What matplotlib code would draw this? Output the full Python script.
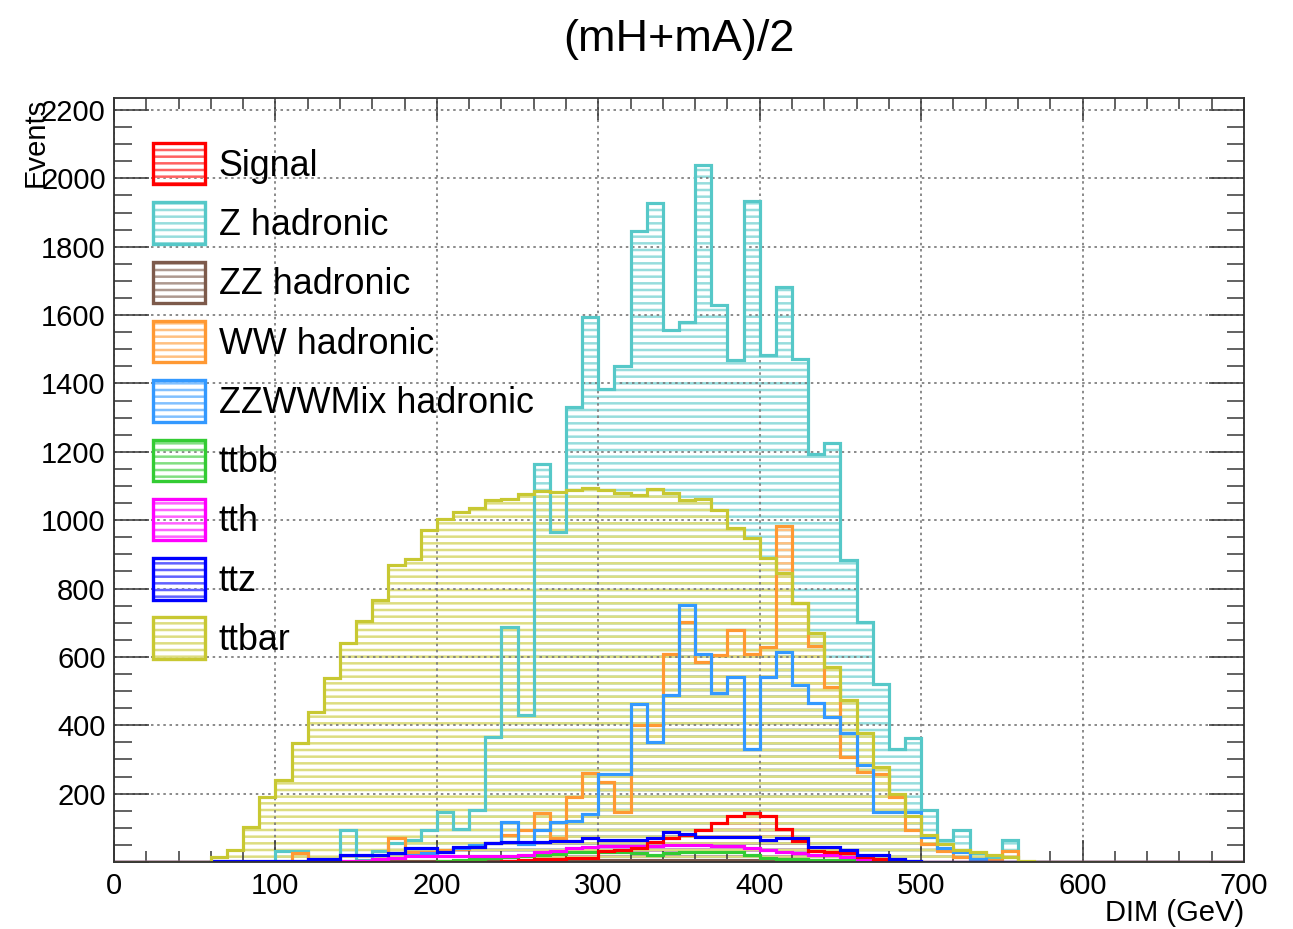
import numpy as np
import matplotlib
matplotlib.use("Agg")
import matplotlib.pyplot as plt
from matplotlib.patches import Patch
from matplotlib.legend_handler import HandlerTuple
from matplotlib.colors import to_rgb
from matplotlib.ticker import MultipleLocator, FixedLocator, FixedFormatter


# 10 GeV bins from 0 to 700; each series is stored from its first non-empty bin
bin_edges = list(range(0, 710, 10))

z_had_first = 10
z_had = [33, 33, 0, 0, 93, 5, 33, 55, 64, 95,
         147, 97, 152, 367, 688, 430, 1165, 965, 1330, 1595,
         1385, 1450, 1845, 1928, 1555, 1580, 2040, 1630, 1470, 1935,
         1482, 1683, 1472, 1193, 1225, 884, 703, 522, 332, 362,
         151, 64, 93, 25, 15, 64]

ttbar_first = 6
ttbar = [15, 35, 103, 190, 240, 347, 440, 537, 640, 704,
         766, 868, 885, 970, 1002, 1025, 1037, 1059, 1063, 1078,
         1085, 1082, 1089, 1095, 1089, 1080, 1073, 1092, 1080, 1059,
         1063, 1029, 976, 947, 888, 844, 757, 670, 571, 473,
         377, 278, 198, 135, 78, 54, 35, 30, 20, 15, 3]

ww_had_first = 11
ww_had = [27, 0, 0, 0, 0, 0, 69, 30, 30, 35,
          38, 45, 55, 80, 93, 142, 69, 191, 259, 235,
          147, 401, 401, 608, 703, 586, 605, 678, 608, 629,
          983, 757, 631, 513, 307, 263, 258, 189, 93, 54,
          33, 15, 8, 5, 33]

zzww_first = 18
zzww = [20, 25, 30, 40, 50, 57, 117, 54, 93, 117,
        120, 141, 258, 258, 463, 352, 489, 752, 608, 494,
        542, 332, 542, 615, 518, 466, 425, 377, 283, 147,
        147, 147, 74, 40, 30, 10]

zz_had_first = 15
zz_had = [2, 2, 2, 2, 2, 4, 4, 4, 4, 4,
          4, 4, 4, 4, 4, 6, 6, 6, 6, 6,
          6, 6, 6, 6, 6, 6, 6, 6, 6, 6,
          3, 3, 3, 3]

ttbb_first = 20
ttbb = [3, 5, 8, 12, 15, 18, 20, 22, 28, 28,
        30, 30, 25, 20, 25, 28, 28, 30, 30, 20,
        12, 10, 8, 7, 6, 5, 4, 3, 2, 3]

tth_first = 12
tth = [3, 3, 3, 3, 8, 12, 17, 17, 17, 17,
       17, 17, 17, 20, 28, 32, 40, 45, 47, 47,
       47, 47, 50, 50, 50, 48, 48, 42, 35, 30,
       25, 20, 20, 15, 10, 6, 3]

signal_first = 24
signal = [3, 5, 10, 10, 12, 13, 33, 35, 40, 59,
          69, 79, 94, 114, 134, 144, 136, 96, 60, 33,
          30, 25, 15, 8, 3]

ttz_first = 6
ttz = [3, 3, 3, 3, 3, 3, 8, 8, 20, 20,
       20, 25, 40, 40, 30, 45, 45, 56, 59, 59,
       59, 60, 62, 70, 64, 64, 64, 70, 88, 83,
       72, 72, 72, 72, 65, 70, 70, 45, 45, 35,
       20, 20, 10, 2]

labels = ["Signal", "Z hadronic", "ZZ hadronic", "WW hadronic",
          "ZZWWMix hadronic", "ttbb", "tth", "ttz", "ttbar"]
colors = {
    "Signal": "#ff0000",
    "Z hadronic": "#56c8c8",
    "ZZ hadronic": "#7d5a4b",
    "WW hadronic": "#ff9933",
    "ZZWWMix hadronic": "#3399ff",
    "ttbb": "#33cc33",
    "tth": "#ff00ff",
    "ttz": "#0000ff",
    "ttbar": "#c8c832",
}
series = {
    "Signal": (signal_first, signal),
    "Z hadronic": (z_had_first, z_had),
    "ZZ hadronic": (zz_had_first, zz_had),
    "WW hadronic": (ww_had_first, ww_had),
    "ZZWWMix hadronic": (zzww_first, zzww),
    "ttbb": (ttbb_first, ttbb),
    "tth": (tth_first, tth),
    "ttz": (ttz_first, ttz),
    "ttbar": (ttbar_first, ttbar),
}
draw_order = ["Z hadronic", "WW hadronic", "ZZWWMix hadronic", "ZZ hadronic",
              "ttbb", "tth", "Signal", "ttz", "ttbar"]


def full_hist(first, vals):
    h = np.zeros(len(bin_edges) - 1)
    h[first:first + len(vals)] = vals
    return h


def light(c, f=0.38):
    r, g, b = to_rgb(c)
    return (r + (1 - r) * f, g + (1 - g) * f, b + (1 - b) * f)


plt.rcParams["font.family"] = ["Liberation Sans", "DejaVu Sans"]
plt.rcParams["hatch.linewidth"] = 1.5

W, H, DPI = 1293, 929, 120
fig = plt.figure(figsize=(W / DPI, H / DPI), dpi=DPI)
x0, x1, y0, y1 = 114, 1244, 862, 98
ax = fig.add_axes([x0 / W, 1 - y0 / H, (x1 - x0) / W, (y0 - y1) / H])

HATCH = "---"
# hatched fills first (ttbar last so its hatch sits over the others), outlines on top
for name in draw_order:
    first, vals = series[name]
    h = full_hist(first, vals)
    ax.stairs(h, bin_edges, baseline=0, fill=True, facecolor="none",
              edgecolor=light(colors[name]), hatch=HATCH, linewidth=0, zorder=1)
for name in draw_order:
    first, vals = series[name]
    h = full_hist(first, vals)
    ax.stairs(h, bin_edges, baseline=0, color=colors[name], linewidth=1.9, zorder=2)

ax.set_xlim(0, 700)
ax.set_ylim(0, 2235)

ax.xaxis.set_major_locator(MultipleLocator(100))
ax.xaxis.set_minor_locator(MultipleLocator(20))
yt = list(range(0, 2201, 200))
ax.yaxis.set_major_locator(FixedLocator(yt))
ax.yaxis.set_major_formatter(FixedFormatter([""] + [str(v) for v in yt[1:]]))
ax.yaxis.set_minor_locator(MultipleLocator(50))

ax.tick_params(which="both", direction="in", top=True, right=True,
               labelsize=17.5, colors="#333333", width=0.9)
ax.tick_params(axis="x", which="major", length=13, pad=6, labelcolor="black")
ax.tick_params(axis="x", which="minor", length=6.5)
ax.tick_params(axis="y", which="major", length=21, pad=5, labelcolor="black")
ax.tick_params(axis="y", which="minor", length=10.5)

ax.set_axisbelow("line")
ax.grid(True, which="major", color="#777777", linestyle=(0, (1.5, 2.2)), linewidth=1.0)
for s in ax.spines.values():
    s.set_linewidth(1.1)
    s.set_color("#333333")

fig.text(0.5 * (x0 + x1) / W, 1 - 39 / H, "(mH+mA)/2", ha="center", va="center", fontsize=27)
fig.text(36 / W, 1 - 98 / H, "Events", rotation=90, ha="center", va="top", fontsize=17.5)
fig.text(x1 / W, 1 - 913 / H, "DIM (GeV)", ha="right", va="center", fontsize=17.5)

handles = []
for name in labels:
    c = colors[name]
    hatch_part = Patch(facecolor="none", edgecolor=light(c), hatch=HATCH, linewidth=0)
    frame_part = Patch(facecolor="none", edgecolor=c, linewidth=2.0)
    handles.append((hatch_part, frame_part))
ax.legend(handles, labels, handler_map={tuple: HandlerTuple(ndivide=1, pad=0)},
          loc="upper left", bbox_to_anchor=((153 - x0) / (x1 - x0), (y0 - 143) / (y0 - y1)),
          frameon=False, fontsize=21.5, borderpad=0, borderaxespad=0,
          handlelength=1.45, handleheight=1.4, labelspacing=0.50, handletextpad=0.38)

fig.savefig("out.png", dpi=DPI)
